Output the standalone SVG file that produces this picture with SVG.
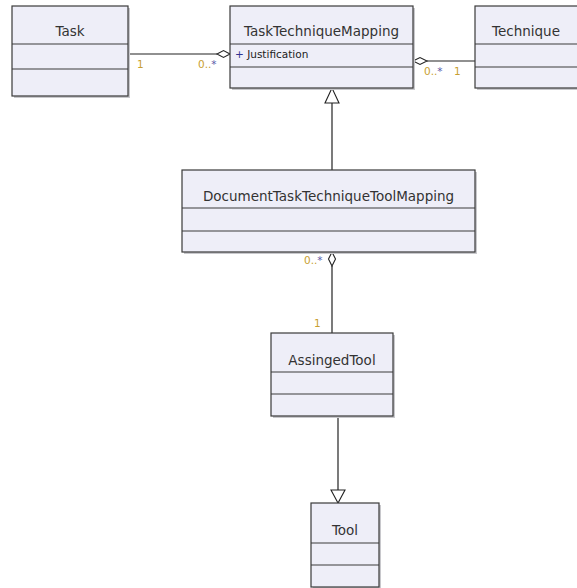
<svg xmlns="http://www.w3.org/2000/svg" width="577" height="588" viewBox="0 0 577 588">
  <style>
    .shadow { fill: #c8c8cc; }
    .box { fill: #eeeef8; stroke: #3a3a3a; stroke-width: 1.2; }
    .div { stroke: #3a3a3a; stroke-width: 1.2; }
    .name { font-family: "DejaVu Sans", Verdana, sans-serif; font-size: 13.5px; fill: #333333; text-anchor: middle; }
    .attr { font-family: "DejaVu Sans", Verdana, sans-serif; font-size: 10.5px; fill: #222222; }
    .plus { fill: #303090; }
    .mult { font-family: "DejaVu Sans", Verdana, sans-serif; font-size: 10.5px; fill: #c8a030; }
    .star { fill: #5a5aa8; }
    .edge { stroke: #222222; stroke-width: 1.2; fill: none; }
    .diamond { fill: #ffffff; stroke: #222222; stroke-width: 1.1; }
    .tri { fill: #ffffff; stroke: #222222; stroke-width: 1.1; }
  </style>
  <rect width="577" height="588" fill="#ffffff"/>

  <!-- associations and generalizations -->
  <g id="connectors">
    <!-- Task 1 — 0..* TaskTechniqueMapping -->
    <line class="edge" x1="128" y1="54" x2="217" y2="54"/>
    <polygon class="diamond" points="230,54 223.5,50.5 217,54 223.5,57.5"/>
    <text class="mult" x="137" y="68">1</text>
    <text class="mult" x="198" y="68">0..<tspan class="star">*</tspan></text>

    <!-- TaskTechniqueMapping 0..* — 1 Technique -->
    <line class="edge" x1="427" y1="61" x2="475" y2="61"/>
    <polygon class="diamond" points="413,61 420,57.5 427,61 420,64.5"/>
    <text class="mult" x="424" y="75">0..<tspan class="star">*</tspan></text>
    <text class="mult" x="454" y="75">1</text>

    <!-- DocumentTaskTechniqueToolMapping generalizes TaskTechniqueMapping -->
    <line class="edge" x1="332" y1="103" x2="332" y2="170"/>
    <polygon class="tri" points="332,88 325,103 339,103"/>

    <!-- DocumentTaskTechniqueToolMapping 0..* — 1 AssingedTool -->
    <line class="edge" x1="332" y1="266" x2="332" y2="333"/>
    <polygon class="diamond" points="332,252 328.5,259 332,266 335.5,259"/>
    <text class="mult" x="304" y="264">0..<tspan class="star">*</tspan></text>
    <text class="mult" x="314" y="327">1</text>

    <!-- AssingedTool generalizes Tool -->
    <line class="edge" x1="338" y1="416" x2="338" y2="490"/>
    <polygon class="tri" points="338,503 331,490 345,490"/>
  </g>

  <g id="Task">
    <rect class="shadow" x="14" y="8" width="116" height="90"/>
    <rect class="box" x="12" y="6" width="116" height="90"/>
    <line class="div" x1="12" y1="44" x2="128" y2="44"/>
    <line class="div" x1="12" y1="69" x2="128" y2="69"/>
    <text class="name" x="70" y="36">Task</text>
  </g>

  <g id="TaskTechniqueMapping">
    <rect class="shadow" x="232" y="8" width="183" height="82"/>
    <rect class="box" x="230" y="6" width="183" height="82"/>
    <line class="div" x1="230" y1="44" x2="413" y2="44"/>
    <line class="div" x1="230" y1="67" x2="413" y2="67"/>
    <text class="name" x="321.5" y="36">TaskTechniqueMapping</text>
    <text class="attr" x="235" y="58"><tspan class="plus">+</tspan> Justification</text>
  </g>

  <g id="Technique">
    <rect class="shadow" x="477" y="8" width="104" height="82"/>
    <rect class="box" x="475" y="6" width="104" height="82"/>
    <line class="div" x1="475" y1="44" x2="579" y2="44"/>
    <line class="div" x1="475" y1="67" x2="579" y2="67"/>
    <text class="name" x="526" y="36">Technique</text>
  </g>

  <g id="DocumentTaskTechniqueToolMapping">
    <rect class="shadow" x="184" y="172" width="293" height="82"/>
    <rect class="box" x="182" y="170" width="293" height="82"/>
    <line class="div" x1="182" y1="208" x2="475" y2="208"/>
    <line class="div" x1="182" y1="231" x2="475" y2="231"/>
    <text class="name" x="328.5" y="201">DocumentTaskTechniqueToolMapping</text>
  </g>

  <g id="AssingedTool">
    <rect class="shadow" x="273" y="335" width="122" height="83"/>
    <rect class="box" x="271" y="333" width="122" height="83"/>
    <line class="div" x1="271" y1="372" x2="393" y2="372"/>
    <line class="div" x1="271" y1="394" x2="393" y2="394"/>
    <text class="name" x="332" y="365">AssingedTool</text>
  </g>

  <g id="Tool">
    <rect class="shadow" x="313" y="505" width="68" height="84"/>
    <rect class="box" x="311" y="503" width="68" height="84"/>
    <line class="div" x1="311" y1="543" x2="379" y2="543"/>
    <line class="div" x1="311" y1="565" x2="379" y2="565"/>
    <text class="name" x="345" y="535">Tool</text>
  </g>
</svg>
